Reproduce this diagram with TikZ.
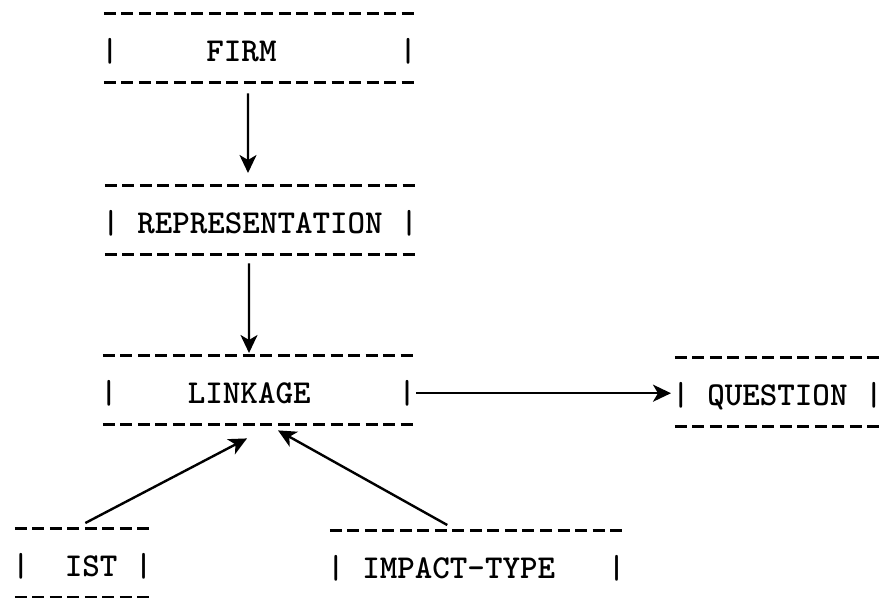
\documentclass[tikz,border=0pt]{standalone}
\usetikzlibrary{arrows.meta}

\begin{document}
\begin{tikzpicture}[x=1pt,y=1pt]
  % some styles
  \tikzset{
    dashline/.style={line width=3pt, line cap=butt, dash pattern=on 12pt off 5.52pt},
    typebox/.style={
      anchor=north west,
      inner sep=0pt,
      font=\ttfamily\bfseries\fontsize{33.4}{40}\selectfont,
      text height=48pt,
      text depth=21pt
    },
    arr/.style={line width=2.4pt, -{Stealth[length=18pt,width=17pt,inset=5pt]}}
  }
  \path[use as bounding box, fill=white] (0,0) rectangle (882,-597);
  \clip (0,0) rectangle (882,-597);

  % the boxes
  \node[typebox] (firm)     at (101,-13)  {|~~~~~FIRM~~~~~~~|};
  \node[typebox] (repr)     at (102,-185) {|~REPRESENTATION~|};
  \node[typebox] (linkage)  at (100,-355) {|~~~~LINKAGE~~~~~|};
  \node[typebox] (question) at (672,-357) {|~QUESTION~|};
  \node[typebox] (ist)      at (12,-528)  {|~~IST~|};
  \node[typebox] (impact)   at (327,-530) {|~IMPACT-TYPE~~~|};

  % dashed rules above and below
  \foreach \n in {firm,repr,linkage,question,ist,impact} {
    \draw[dashline] ([xshift=2.76pt,yshift=-0.5pt]\n.north west) -- ([xshift=-2.76pt,yshift=-0.5pt]\n.north east);
    \draw[dashline] ([xshift=2.76pt]\n.south west) -- ([xshift=-2.76pt]\n.south east);
  }

  % the arrows
  \draw[arr] ([xshift=-11pt,yshift=-11pt]firm.south) -- ([xshift=-12pt,yshift=12pt]repr.north);
  \draw[arr] ([xshift=-11pt,yshift=-9pt]repr.south) -- ([xshift=-9pt,yshift=2pt]linkage.north);
  \draw[arr, shorten >=1pt] ([yshift=-3.5pt]linkage.east) -- ([yshift=-3.5pt]linkage.east -| question.west);
  \draw[arr] ([xshift=3pt,yshift=5pt]ist.north) -- ([xshift=-11pt,yshift=-14pt]linkage.south);
  \draw[arr] ([xshift=-29pt,yshift=5pt]impact.north) -- ([xshift=20pt,yshift=-6pt]linkage.south);
\end{tikzpicture}
\end{document}
